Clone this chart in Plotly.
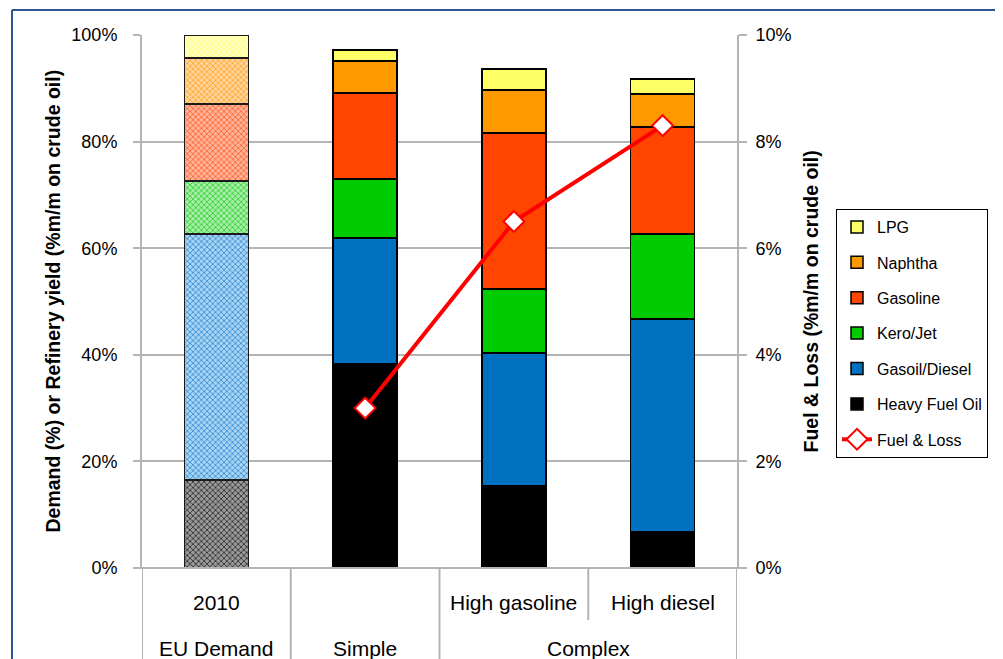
import plotly.graph_objects as go

# ---------------- data ----------------
categories = ["2010", "Simple", "High gasoline", "High diesel"]
row1_labels = ["2010", "", "High gasoline", "High diesel"]
group_labels = ["EU Demand", "Simple", "Complex"]
group_pos = [0, 1, 2.5]

series = ["Heavy Fuel Oil", "Gasoil/Diesel", "Kero/Jet", "Gasoline", "Naphtha", "LPG"]
demand_2010 = [16.5, 46.2, 9.9, 14.5, 8.6, 4.3]
simple = [38.3, 23.6, 11.1, 16.1, 6.0, 2.1]
high_gasoline = [15.4, 24.9, 12.0, 29.3, 8.1, 3.9]
high_diesel = [6.8, 39.9, 16.0, 20.0, 6.2, 2.8]

fuel_loss_x = ["Simple", "High gasoline", "High diesel"]
fuel_loss = [3.0, 6.5, 8.3]

left_ticks = [0, 20, 40, 60, 80, 100]
right_ticks = [0, 2, 4, 6, 8, 10]

# ---------------- styles ----------------
colors = ["#000000", "#0070C0", "#00CC00", "#FF4500", "#FF9900", "#FFFF66"]
tints = ["#9a9a9a", "#a9d3f3", "#a8eea8", "#ffb49a", "#ffd49a", "#ffffc4"]
pat_fg = ["#222222", "#2a86d0", "#22cc22", "#ff5a20", "#ffa020", "#ffff70"]
legend_rank = {"LPG": 1, "Naphtha": 2, "Gasoline": 3, "Kero/Jet": 4,
               "Gasoil/Diesel": 5, "Heavy Fuel Oil": 6}

FONT = "Liberation Sans, Arial, Helvetica, sans-serif"

fig = go.Figure()

for i, name in enumerate(series):
    # patterned demand bar (2010)
    fig.add_trace(go.Bar(
        x=[categories[0]], y=[demand_2010[i]], name=name,
        legendgroup=name, showlegend=False,
        marker=dict(color=tints[i], line=dict(color="#1a1a1a", width=1.5),
                    pattern=dict(shape="x", size=4, solidity=0.35,
                                 fgcolor=pat_fg[i], bgcolor=tints[i],
                                 fillmode="replace")),
        hoverinfo="skip",
    ))
    # refinery yield bars
    fig.add_trace(go.Bar(
        x=categories[1:], y=[simple[i], high_gasoline[i], high_diesel[i]],
        name=name, legendgroup=name, legendrank=legend_rank[name],
        marker=dict(color=colors[i], line=dict(color="#000000", width=1.5)),
    ))

fig.add_trace(go.Scatter(
    x=fuel_loss_x, y=fuel_loss, name="Fuel & Loss", yaxis="y2",
    legendgroup="fl", legendrank=7,
    mode="lines+markers",
    line=dict(color="#FF0000", width=4),
    marker=dict(symbol="diamond", size=16, color="#FFFFFF",
                line=dict(color="#FF0000", width=2)),
))

# page body has an 8px margin: figure origin sits at (8, 8) on the screen
W, H = 995, 651
L, T = 134, 27
pw, ph = 595, 533
R = W - L - pw
B = H - T - ph


def px_x(p):  # screen pixel -> paper x
    return (p - 142) / pw


def px_y(p):  # screen pixel -> paper y
    return (568 - p) / ph


grid = "#b4b4b4"
fig.update_layout(
    width=W, height=H,
    margin=dict(l=L, r=R, t=T, b=B),
    paper_bgcolor="white", plot_bgcolor="white",
    barmode="stack", bargap=0.57,
    font=dict(family=FONT, color="#000000"),
    showlegend=True,
    legend=dict(x=px_x(836), y=px_y(209), xanchor="left", yanchor="top",
                bordercolor="#000000", borderwidth=1, bgcolor="white",
                font=dict(size=16, family=FONT), tracegroupgap=11.6,
                itemwidth=30, traceorder="grouped"),
    xaxis=dict(type="category", categoryorder="array", categoryarray=categories,
               range=[-0.5, 3.5], showticklabels=False, ticks="",
               showgrid=False, zeroline=False, showline=False),
    yaxis=dict(range=[0, 100], tickvals=left_ticks,
               ticktext=[f"{v}%" for v in left_ticks],
               showgrid=True, gridcolor=grid, gridwidth=2,
               showline=True, linecolor=grid, linewidth=2,
               ticks="outside", ticklen=7, tickcolor=grid, tickwidth=2,
               ticklabelstandoff=12, zeroline=False,
               tickfont=dict(size=18, family=FONT)),
    yaxis2=dict(range=[0, 10], tickvals=right_ticks,
                ticktext=[f"{v}%" for v in right_ticks],
                overlaying="y", side="right", showgrid=False,
                showline=True, linecolor=grid, linewidth=2,
                ticks="outside", ticklen=8, tickcolor=grid, tickwidth=2,
                ticklabelstandoff=5, zeroline=False,
                tickfont=dict(size=18, family=FONT)),
)

annotations = []
for idx, lab in enumerate(row1_labels):
    annotations.append(dict(x=idx, xref="x", y=px_y(602), yref="paper",
                            text=lab, showarrow=False, yanchor="middle",
                            font=dict(size=21, family=FONT)))
for pos, lab in zip(group_pos, group_labels):
    annotations.append(dict(x=pos, xref="x", y=px_y(648), yref="paper",
                            text=lab, showarrow=False, yanchor="middle",
                            font=dict(size=21, family=FONT)))
annotations.append(dict(x=px_x(52), xref="paper", y=0.5, yref="paper",
                        text="<b>Demand (%) or Refinery yield (%m/m on crude oil)</b>",
                        textangle=-90, showarrow=False, xanchor="center",
                        yanchor="middle", font=dict(size=19.5, family=FONT)))
annotations.append(dict(x=px_x(810), xref="paper", y=0.5, yref="paper",
                        text="<b>Fuel & Loss (%m/m on crude oil)</b>",
                        textangle=-90, showarrow=False, xanchor="center",
                        yanchor="middle", font=dict(size=19.5, family=FONT)))
fig.update_layout(annotations=annotations)

shapes = []
# x axis baseline
shapes.append(dict(type="line", xref="paper", yref="paper",
                   x0=px_x(133), x1=px_x(746), y0=0, y1=0,
                   line=dict(color=grid, width=2)))
# category dividers below axis
for xv, ybot in [(-0.5, 670), (0.5, 670), (1.5, 670), (2.5, 620), (3.5, 670)]:
    shapes.append(dict(type="line", xref="x", yref="paper",
                       x0=xv, x1=xv, y0=0, y1=px_y(ybot),
                       line=dict(color=grid, width=2)))
# outer frame (blue)
shapes.append(dict(type="line", xref="paper", yref="paper",
                   x0=px_x(12), x1=px_x(1010), y0=px_y(10), y1=px_y(10),
                   line=dict(color="#2F5597", width=2)))
shapes.append(dict(type="line", xref="paper", yref="paper",
                   x0=px_x(12), x1=px_x(12), y0=px_y(10), y1=px_y(670),
                   line=dict(color="#2F5597", width=2)))
fig.update_layout(shapes=shapes)

fig.write_html("out.html")
